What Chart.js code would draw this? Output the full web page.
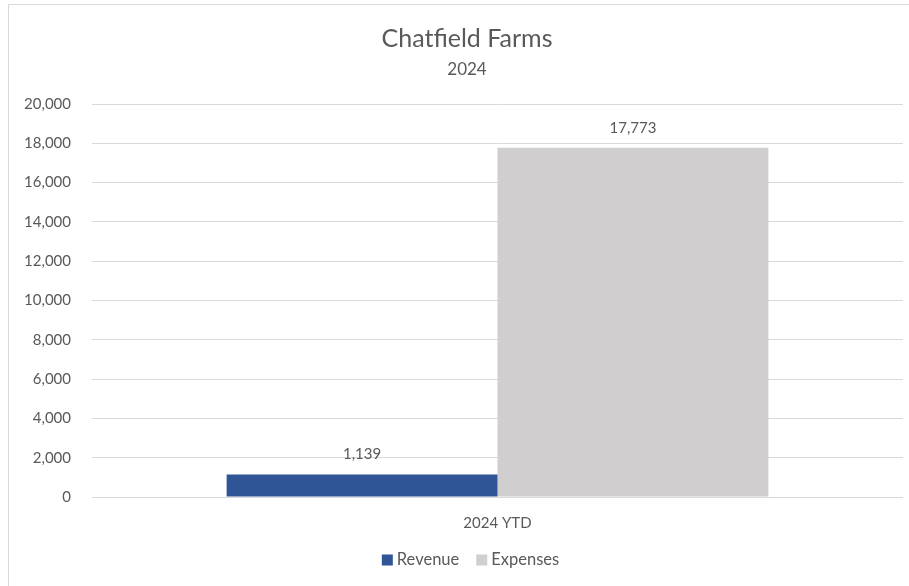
<!DOCTYPE html>
<html>
<head>
<meta charset="utf-8">
<script src="https://cdn.jsdelivr.net/npm/chart.js@4"></script>
<style>
  html, body { margin: 0; padding: 0; background: #fff; }
  #wrap { position: relative; width: 909px; height: 586px; overflow: hidden; }
  #frame { position: absolute; left: 8px; top: 4px; width: 1000px; height: 700px;
           border-top: 1px solid #d9d9d9; border-left: 1px solid #d9d9d9; pointer-events: none; }
  canvas { position: absolute; left: 0; top: 0; }
</style>
</head>
<body>
<div id="wrap">
  <canvas id="c" width="909" height="586"></canvas>
  <div id="frame"></div>
</div>
<script>
const titleText = "Chatfield Farms";
const subtitleText = "2024";
const categories = ["2024 YTD"];
const seriesNames = ["Revenue", "Expenses"];
const revenueValues = [1139];
const expensesValues = [17773];
const yTicks = [0, 2000, 4000, 6000, 8000, 10000, 12000, 14000, 16000, 18000, 20000];
const seriesColors = ["#2F5597", "#D0CECE"];

const FONT = "Lato, 'Open Sans', sans-serif";
const TEXT = "#595959";
const fmt = v => v.toLocaleString("en-US");

const decorPlugin = {
  id: "decor",
  afterDatasetsDraw(chart) {
    const ctx = chart.ctx;
    ctx.save();
    ctx.fillStyle = TEXT;
    ctx.textAlign = "center";
    ctx.textBaseline = "middle";
    // value labels
    chart.data.datasets.forEach((ds, i) => {
      const meta = chart.getDatasetMeta(i);
      meta.data.forEach((bar, j) => {
        ctx.font = "15px " + FONT;
        ctx.fillText(fmt(ds.data[j]), bar.x, bar.y - 20);
      });
    });
    // title
    const cx = 467;
    ctx.font = "25px " + FONT;
    ctx.fillText(titleText, cx, 39);
    ctx.font = "17px " + FONT;
    ctx.fillText(subtitleText, cx, 70);
    // legend
    ctx.font = "16.5px " + FONT;
    ctx.textAlign = "left";
    const ly = 560;
    const items = chart.data.datasets.map(d => ({ label: d.label, color: d.backgroundColor }));
    const box = 11, gap = 4, sep = 17;
    let total = 0;
    items.forEach((it, k) => { total += box + gap + ctx.measureText(it.label).width + (k < items.length - 1 ? sep : 0); });
    let x = 470.5 - total / 2;
    items.forEach(it => {
      ctx.fillStyle = it.color;
      ctx.fillRect(x, ly - box / 2, box, box);
      x += box + gap;
      ctx.fillStyle = TEXT;
      ctx.fillText(it.label, x, ly);
      x += ctx.measureText(it.label).width + sep;
    });
    ctx.restore();
  }
};

new Chart(document.getElementById("c"), {
  type: "bar",
  data: {
    labels: categories,
    datasets: [
      { label: seriesNames[0], data: revenueValues, backgroundColor: seriesColors[0] },
      { label: seriesNames[1], data: expensesValues, backgroundColor: seriesColors[1] }
    ]
  },
  options: {
    responsive: false,
    animation: false,
    events: [],
    layout: { padding: { left: 0, right: 6, top: 104, bottom: 0 } },
    datasets: { bar: { categoryPercentage: 0.668, barPercentage: 1.0 } },
    plugins: { legend: { display: false }, title: { display: false }, tooltip: { enabled: false } },
    scales: {
      x: {
        grid: { display: false, drawTicks: false },
        border: { display: false },
        ticks: { color: TEXT, font: { family: FONT, size: 15 }, padding: 17 },
        afterFit: s => { s.height = 89; }
      },
      y: {
        min: 0, max: 20000,
        afterBuildTicks: s => { s.ticks = yTicks.map(v => ({ value: v })); },
        grid: { color: "#d9d9d9", lineWidth: 1, drawTicks: false },
        border: { display: false },
        ticks: { color: TEXT, font: { family: FONT, size: 15 }, padding: 21, callback: v => fmt(v) },
        afterFit: s => { s.width = 92; }
      }
    }
  },
  plugins: [decorPlugin]
});
</script>
</body>
</html>
